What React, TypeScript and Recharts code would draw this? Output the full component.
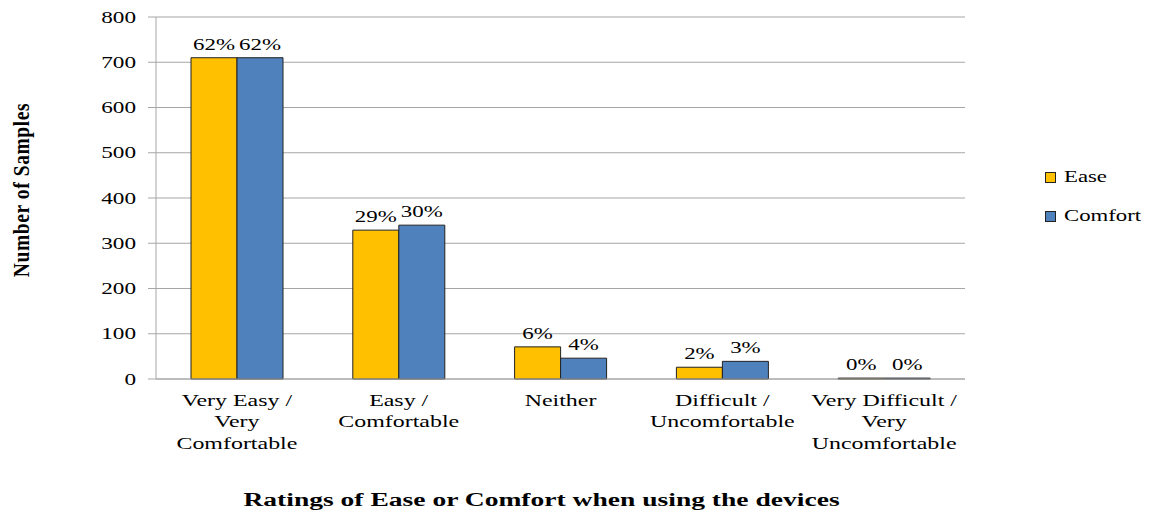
import { BarChart, Bar, XAxis, YAxis, CartesianGrid, LabelList, Legend } from 'recharts'

const categories = [
  'Very Easy /\nVery\nComfortable',
  'Easy /\nComfortable',
  'Neither',
  'Difficult /\nUncomfortable',
  'Very Difficult /\nVery\nUncomfortable',
]
const easeCounts = [710, 329, 71, 26, 2]
const comfortCounts = [710, 340, 46, 39, 2]
const easePct = ['62%', '29%', '6%', '2%', '0%']
const comfortPct = ['62%', '30%', '4%', '3%', '0%']
const yTicks = [0, 100, 200, 300, 400, 500, 600, 700, 800]
const edgeTicks = [0, 1, 2, 3, 4, 5]

const data = categories.map((category, i) => ({
  category,
  ease: easeCounts[i],
  comfort: comfortCounts[i],
  easePct: easePct[i],
  comfortPct: comfortPct[i],
}))

const FONT = "'Liberation Serif', 'Times New Roman', serif"
const GRID = '#a6a6a6'
// the original picture is stretched sideways, so text is widened the same way
const STRETCH = 1.45

const CategoryTick = ({ x = 0, y = 0, payload }: { x?: number; y?: number; payload?: { value: string } }) => {
  const lines = String(payload?.value ?? '').split('\n')
  return (
    <text
      transform={`translate(${x} ${y + 25}) scale(${STRETCH} 1)`}
      textAnchor="middle"
      fill="#000"
      fontSize={16.5}
      fontFamily={FONT}
    >
      {lines.map((line, i) => (
        <tspan key={i} x={0} dy={i === 0 ? 0 : 21.5}>
          {line}
        </tspan>
      ))}
    </text>
  )
}

const ValueTick = ({ x = 0, y = 0, payload }: { x?: number; y?: number; payload?: { value: number } }) => (
  <text
    transform={`translate(${x} ${y}) scale(${STRETCH} 1)`}
    dy="0.35em"
    textAnchor="end"
    fill="#000"
    fontSize={16}
    fontFamily={FONT}
  >
    {payload?.value}
  </text>
)

const PctLabel = ({ x = 0, y = 0, width = 0, value }: any) => (
  <text
    transform={`translate(${Number(x) + Number(width) / 2} ${Number(y) - 8}) scale(${STRETCH} 1)`}
    textAnchor="middle"
    fill="#000"
    fontSize={15.8}
    fontFamily={FONT}
  >
    {value}
  </text>
)

const LegendContent = () => (
  <div style={{ fontSize: 15.7, color: '#000', fontFamily: FONT }}>
    {[
      { name: 'Ease', color: '#FFC000' },
      { name: 'Comfort', color: '#4F81BD' },
    ].map((item, i) => (
      <div key={item.name} style={{ display: 'flex', alignItems: 'center', height: 22, marginTop: i ? 17 : 0 }}>
        <span
          style={{
            width: 9,
            height: 9,
            background: item.color,
            border: '1px solid #222',
            marginRight: 8,
          }}
        />
        <span style={{ display: 'inline-block', transform: `scaleX(${STRETCH})`, transformOrigin: 'left center' }}>
          {item.name}
        </span>
      </div>
    ))}
  </div>
)

export default function App() {
  return (
    <div style={{ position: 'absolute', left: 0, top: 0, fontFamily: FONT }}>
      <BarChart
        width={1151}
        height={514}
        data={data}
        margin={{ top: 17, right: 76, left: 0, bottom: 0 }}
        barGap={0}
        barSize={46}
      >
        <CartesianGrid vertical={false} stroke={GRID} strokeWidth={1.2} />
        <XAxis
          xAxisId="edges"
          type="number"
          domain={[0, 5]}
          ticks={edgeTicks}
          allowDataOverflow
          tick={false}
          axisLine={false}
          tickLine={{ stroke: GRID }}
          tickSize={6}
          height={0}
        />
        <XAxis
          dataKey="category"
          interval={0}
          tickLine={false}
          axisLine={{ stroke: GRID }}
          tickSize={0}
          tick={<CategoryTick />}
          height={135}
          label={{
            content: ({ viewBox }: any) => (
              <text
                transform={`translate(${viewBox.x + viewBox.width / 2 - 19} ${viewBox.y + 127}) scale(${STRETCH} 1)`}
                textAnchor="middle"
                fontSize={19}
                fontWeight="bold"
                fill="#000"
                fontFamily={FONT}
              >
                Ratings of Ease or Comfort when using the devices
              </text>
            ),
          }}
        />
        <YAxis
          domain={[0, 800]}
          ticks={yTicks}
          width={156}
          tick={<ValueTick />}
          tickLine={{ stroke: GRID }}
          axisLine={{ stroke: GRID }}
          tickSize={8}
          tickMargin={12}
          label={{
            content: ({ viewBox }: any) => {
              const cx = viewBox.x + 29
              const cy = viewBox.y + viewBox.height / 2 - 8
              return (
                <text
                  transform={`translate(${cx} ${cy}) scale(1.2 1) rotate(-90)`}
                  textAnchor="middle"
                  fontSize={19.5}
                  fontWeight="bold"
                  fill="#000"
                  fontFamily={FONT}
                  style={{ letterSpacing: 0.6 }}
                >
                  Number of Samples
                </text>
              )
            },
          }}
        />
        <Legend
          layout="vertical"
          align="right"
          verticalAlign="middle"
          width={110}
          content={<LegendContent />}
          wrapperStyle={{ left: 1045, top: 166, right: 'auto' }}
        />
        <Bar dataKey="ease" name="Ease" fill="#FFC000" stroke="#222" strokeWidth={1} isAnimationActive={false}>
          <LabelList dataKey="easePct" content={<PctLabel />} />
        </Bar>
        <Bar dataKey="comfort" name="Comfort" fill="#4F81BD" stroke="#222" strokeWidth={1} isAnimationActive={false}>
          <LabelList dataKey="comfortPct" content={<PctLabel />} />
        </Bar>
      </BarChart>
    </div>
  )
}
